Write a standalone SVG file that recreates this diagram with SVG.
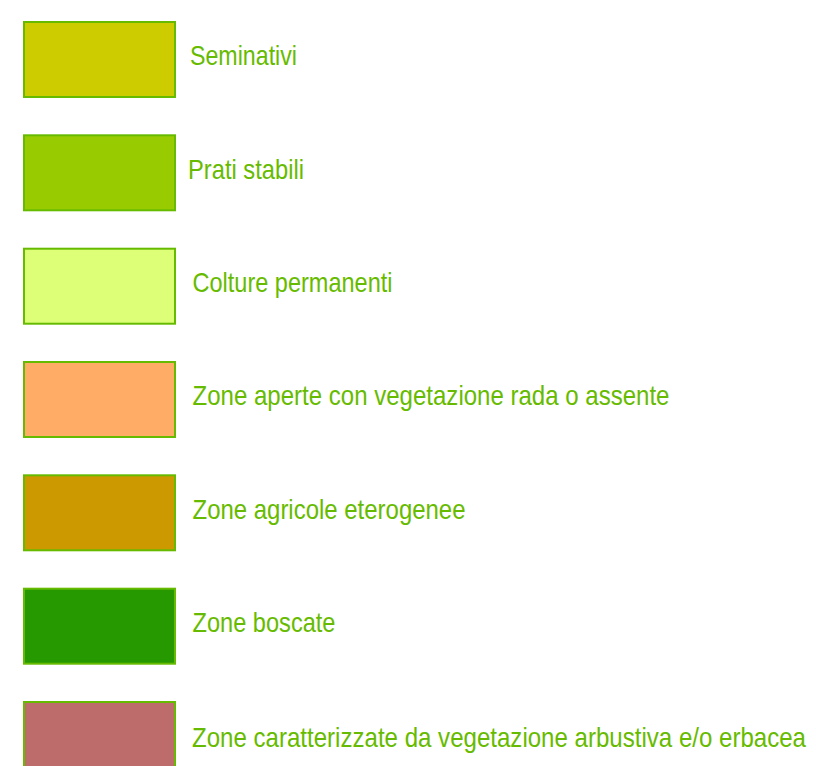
<svg xmlns="http://www.w3.org/2000/svg" width="816" height="766" viewBox="0 0 816 766">
<style>
.sw{stroke:#66bb00;stroke-width:2}
.lb{font-family:"Liberation Sans",Arial,sans-serif;font-size:28px;fill:#66bb00}
</style>
<rect width="816" height="766" fill="#ffffff"/>
<g id="seminativi"><rect class="sw" x="24" y="22" width="151" height="75" fill="#cccc00"/><text class="lb" x="190" y="65" textLength="107" lengthAdjust="spacingAndGlyphs">Seminativi</text></g>
<g id="prati"><rect class="sw" x="24" y="135.3" width="151" height="75" fill="#99cc00"/><text class="lb" x="188" y="178.5" textLength="116" lengthAdjust="spacingAndGlyphs">Prati stabili</text></g>
<g id="colture"><rect class="sw" x="24" y="248.7" width="151" height="75" fill="#ddff77"/><text class="lb" x="192.5" y="292" textLength="200" lengthAdjust="spacingAndGlyphs">Colture permanenti</text></g>
<g id="aperte"><rect class="sw" x="24" y="362" width="151" height="75" fill="#ffad66"/><text class="lb" x="192.5" y="405" textLength="477" lengthAdjust="spacingAndGlyphs">Zone aperte con vegetazione rada o assente</text></g>
<g id="agricole"><rect class="sw" x="24" y="475.3" width="151" height="75" fill="#cc9900"/><text class="lb" x="192.5" y="518.5" textLength="273" lengthAdjust="spacingAndGlyphs">Zone agricole eterogenee</text></g>
<g id="boscate"><rect class="sw" x="24" y="588.7" width="151" height="75" fill="#269900"/><text class="lb" x="192.5" y="632" textLength="143" lengthAdjust="spacingAndGlyphs">Zone boscate</text></g>
<g id="arbustiva"><rect class="sw" x="24" y="702" width="151" height="75" fill="#bd6b6b"/><text class="lb" x="192" y="746.5" textLength="614" lengthAdjust="spacingAndGlyphs">Zone caratterizzate da vegetazione arbustiva e/o erbacea</text></g>
</svg>
